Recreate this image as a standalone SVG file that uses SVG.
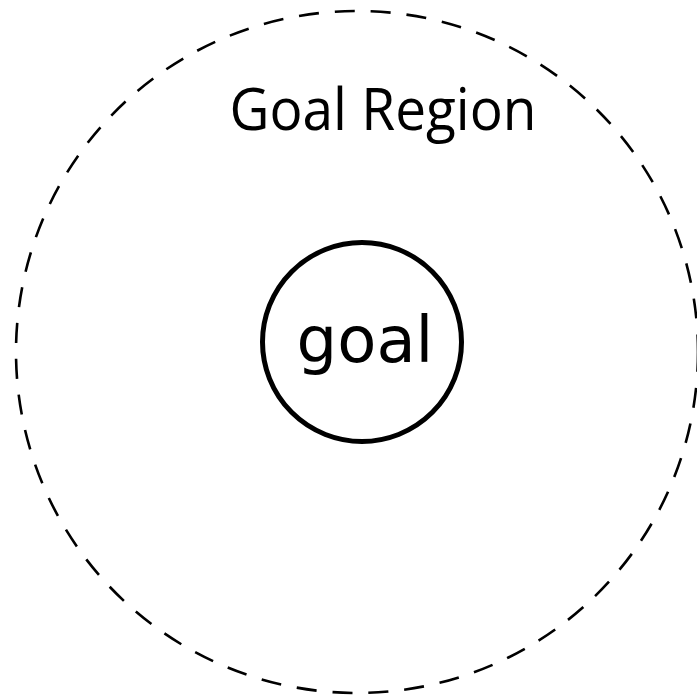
<svg xmlns="http://www.w3.org/2000/svg" width="697" height="699" viewBox="0 0 697 699">
<style>
.region{fill:none;stroke:#000;stroke-width:2.6;stroke-dasharray:20 16}
.node{fill:#fff;stroke:#000;stroke-width:5}
.t1{font-family:"Open Sans","Liberation Sans",sans-serif;font-size:59px;fill:#000}
.t2{font-family:"DejaVu Sans",sans-serif;font-size:64px;fill:#000}
</style>
<rect width="697" height="699" fill="#fff"/>
<g id="goal-region">
<circle class="region" cx="357" cy="352" r="341"/>
<text class="t1" x="383" y="130" text-anchor="middle" textLength="307" lengthAdjust="spacingAndGlyphs">Goal Region</text>
</g>
<g id="goal">
<circle class="node" cx="362" cy="342" r="99.5"/>
<text class="t2" x="365" y="362" text-anchor="middle">goal</text>
</g>
<g id="connectors"/>
</svg>
